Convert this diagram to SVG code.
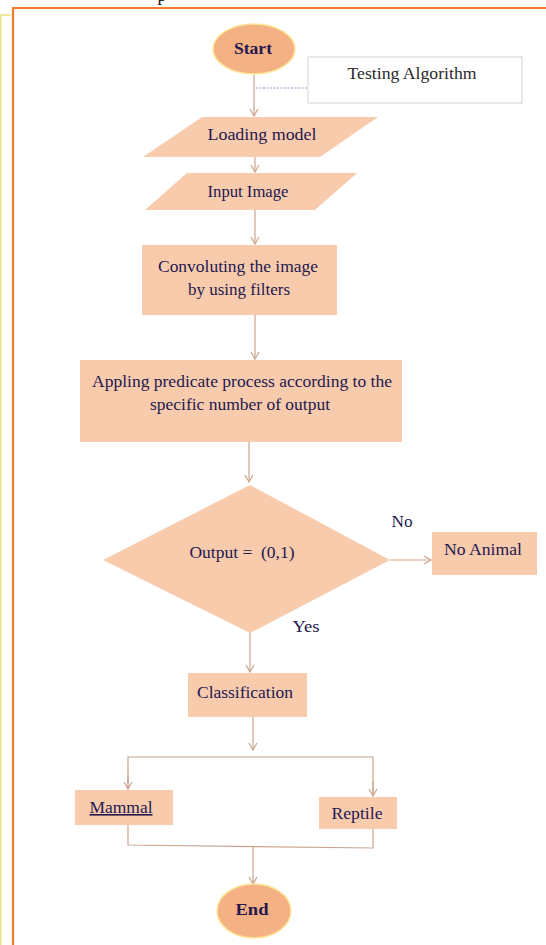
<svg xmlns="http://www.w3.org/2000/svg" width="546" height="945" viewBox="0 0 546 945">
<style>
.box{fill:#f8cbad;stroke:none}
.term{fill:#f4b183;stroke:#ffe699;stroke-width:1.5}
.t{font-family:"Liberation Serif","Times New Roman",serif;font-size:16px;fill:#24184f;text-anchor:middle}
.b{font-weight:bold}
.c{fill:none;stroke:#c9a58e;stroke-width:1.2}
</style>
<defs>
<marker id="ar" markerWidth="10" markerHeight="10" refX="8" refY="5" orient="auto" markerUnits="userSpaceOnUse">
<path d="M1,1 L8,5 L1,9" fill="none" stroke="#c9a58e" stroke-width="1.2"/>
</marker>
</defs>
<rect width="546" height="945" fill="#ffffff"/>
<g id="frame">
<path d="M13,950 L13,8 L548,8" fill="none" stroke="#ed7d31" stroke-width="2.2"/>
<path d="M0.8,945 L0.8,15 L11,15" fill="none" stroke="#e8e27a" stroke-width="1.4"/>
<text x="162" y="1" font-family="Liberation Serif, serif" font-size="18" fill="#111" text-anchor="middle">p</text>
</g>
<g id="connectors">
<line class="c" x1="254" y1="75" x2="254" y2="116" marker-end="url(#ar)"/>
<line x1="256" y1="88" x2="308" y2="88" stroke="#9a90c8" stroke-width="1" stroke-dasharray="2,1.5"/>
<line class="c" x1="255" y1="157" x2="255" y2="172" marker-end="url(#ar)"/>
<line class="c" x1="255" y1="210" x2="255" y2="244" marker-end="url(#ar)"/>
<line class="c" x1="255" y1="315" x2="255" y2="359" marker-end="url(#ar)"/>
<line class="c" x1="249" y1="442" x2="249" y2="482" marker-end="url(#ar)"/>
<line class="c" x1="390" y1="560" x2="431" y2="560" marker-end="url(#ar)"/>
<line class="c" x1="250" y1="633" x2="250" y2="672" marker-end="url(#ar)"/>
<line class="c" x1="253" y1="717" x2="253" y2="750" marker-end="url(#ar)"/>
<path class="c" d="M128,788 L128,757 L373,757 L373,795"/>
<line class="c" x1="128" y1="775" x2="128" y2="789" marker-end="url(#ar)"/>
<line class="c" x1="373" y1="782" x2="373" y2="796" marker-end="url(#ar)"/>
<path class="c" d="M128,825 L128,845 L373,848 L373,829"/>
<line class="c" x1="253" y1="847" x2="253" y2="884" marker-end="url(#ar)"/>
</g>
<g id="start">
<ellipse class="term" cx="254" cy="49" rx="41" ry="25"/>
<text class="t b" x="253" y="54" textLength="38" lengthAdjust="spacingAndGlyphs">Start</text>
</g>
<g id="testing-algorithm">
<rect x="308" y="57" width="214" height="46" fill="#ffffff" stroke="#d4d4d4" stroke-width="1"/>
<text class="t" x="412" y="79" style="fill:#2a2a2a" textLength="129" lengthAdjust="spacingAndGlyphs">Testing Algorithm</text>
</g>
<g id="loading-model">
<polygon class="box" points="202,117 378,117 320,157 143,157"/>
<text class="t" x="262" y="140" textLength="109" lengthAdjust="spacingAndGlyphs">Loading model</text>
</g>
<g id="input-image">
<polygon class="box" points="187,173 357,173 315,210 145,210"/>
<text class="t" x="248" y="197" textLength="81" lengthAdjust="spacingAndGlyphs">Input Image</text>
</g>
<g id="convoluting">
<rect class="box" x="142" y="245" width="195" height="70"/>
<text class="t" x="238" y="272" textLength="160" lengthAdjust="spacingAndGlyphs">Convoluting the image</text>
<text class="t" x="239" y="295" textLength="102" lengthAdjust="spacingAndGlyphs">by using filters</text>
</g>
<g id="appling">
<rect class="box" x="80" y="360" width="322" height="82"/>
<text class="t" x="242" y="387" textLength="300" lengthAdjust="spacingAndGlyphs">Appling predicate process according to the</text>
<text class="t" x="240" y="410" textLength="180" lengthAdjust="spacingAndGlyphs">specific number of output</text>
</g>
<g id="decision">
<polygon class="box" points="250,485 390,560 250,633 103,560"/>
<text class="t" x="242" y="558" xml:space="preserve" textLength="105" lengthAdjust="spacingAndGlyphs">Output =  (0,1)</text>
</g>
<g id="labels">
<text class="t" x="402" y="527" textLength="21" lengthAdjust="spacingAndGlyphs">No</text>
<text class="t" x="306" y="632" textLength="27" lengthAdjust="spacingAndGlyphs">Yes</text>
</g>
<g id="no-animal">
<rect class="box" x="432" y="532" width="105" height="43"/>
<text class="t" x="483" y="555" textLength="78" lengthAdjust="spacingAndGlyphs">No Animal</text>
</g>
<g id="classification">
<rect class="box" x="188" y="673" width="119" height="44"/>
<text class="t" x="245" y="698" textLength="96" lengthAdjust="spacingAndGlyphs">Classification</text>
</g>
<g id="mammal">
<rect class="box" x="75" y="790" width="98" height="35"/>
<text class="t" x="121" y="813" textLength="63" lengthAdjust="spacingAndGlyphs" text-decoration="underline">Mammal</text>
</g>
<g id="reptile">
<rect class="box" x="319" y="797" width="78" height="32"/>
<text class="t" x="357" y="819" textLength="51" lengthAdjust="spacingAndGlyphs">Reptile</text>
</g>
<g id="end">
<ellipse class="term" cx="254" cy="911" rx="37" ry="27"/>
<text class="t b" x="252" y="915" textLength="33" lengthAdjust="spacingAndGlyphs">End</text>
</g>
</svg>
